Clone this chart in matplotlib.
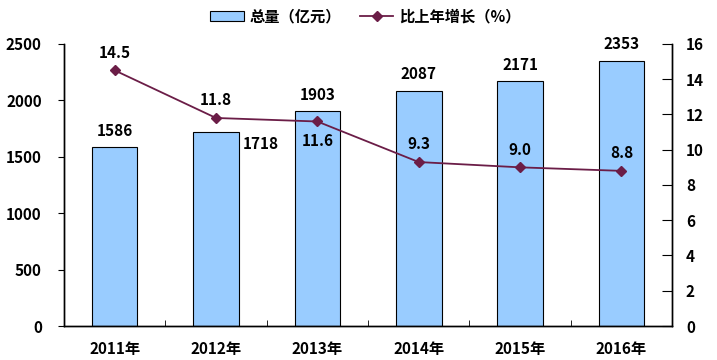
import numpy as np
import matplotlib.pyplot as plt

plt.rcParams['font.family'] = ['Noto Sans CJK SC', 'DejaVu Sans']
plt.rcParams['font.weight'] = 'bold'

years = ['2011年', '2012年', '2013年', '2014年', '2015年', '2016年']
total = [1586, 1718, 1903, 2087, 2171, 2353]
growth = [14.5, 11.8, 11.6, 9.3, 9.0, 8.8]

x = np.arange(len(years))
fs = 11

fig = plt.figure(figsize=(7.17, 3.6), dpi=100)
ax = fig.add_axes([0.0893, 0.0944, 0.848, 0.7836])
ax2 = ax.twinx()

bars = ax.bar(x, total, width=0.45, color='#99CCFF', edgecolor='black',
              linewidth=0.8, zorder=2)
ln, = ax2.plot(x, growth, color='#6B1D47', marker='D', markersize=5,
               linewidth=1.3)

ax.set_xlim(-0.5, len(years) - 0.5)
ax.set_ylim(0, 2500)
ax.set_yticks(np.arange(0, 2501, 500))
ax2.set_ylim(0, 16)
ax2.set_yticks(np.arange(0, 17, 2))

ax.set_xticks(x)
ax.set_xticklabels(years, fontsize=fs)
ax.set_xticks(np.arange(0.5, len(years) - 1, 1), minor=True)
ax.tick_params(axis='x', which='major', length=0, pad=11)
ax.tick_params(axis='x', which='minor', direction='in', length=4)
ax.tick_params(axis='y', direction='out', length=4, labelsize=fs, pad=12)
ax2.tick_params(axis='y', direction='in', length=7, labelsize=fs, pad=10)

for a in (ax, ax2):
    a.spines['top'].set_visible(False)
    for s in ('left', 'right', 'bottom'):
        a.spines[s].set_linewidth(1.0)

# bar labels
for i, v in enumerate(total):
    if i == 1:
        ax.annotate(str(v), (x[i] + 0.225, v), xytext=(3, -3), textcoords='offset points',
                    ha='left', va='top', fontsize=fs)
    else:
        ax.annotate(str(v), (x[i], v), xytext=(0, 6), textcoords='offset points',
                    ha='center', va='bottom', fontsize=fs)

# line labels
for i, v in enumerate(growth):
    if i == 2:
        ax2.annotate(f'{v}', (x[i], v), xytext=(0, -8), textcoords='offset points',
                     ha='center', va='top', fontsize=fs)
    else:
        ax2.annotate(f'{v}', (x[i], v), xytext=(0, 7), textcoords='offset points',
                     ha='center', va='bottom', fontsize=fs)

fig.legend([bars, ln], ['总量（亿元）', '比上年增长（%）'], loc='upper center',
           bbox_to_anchor=(0.51, 1.015), ncol=2, frameon=False, fontsize=fs,
           handlelength=2.2, handletextpad=0.4, columnspacing=1.2)

fig.savefig('out.png', dpi=100)
